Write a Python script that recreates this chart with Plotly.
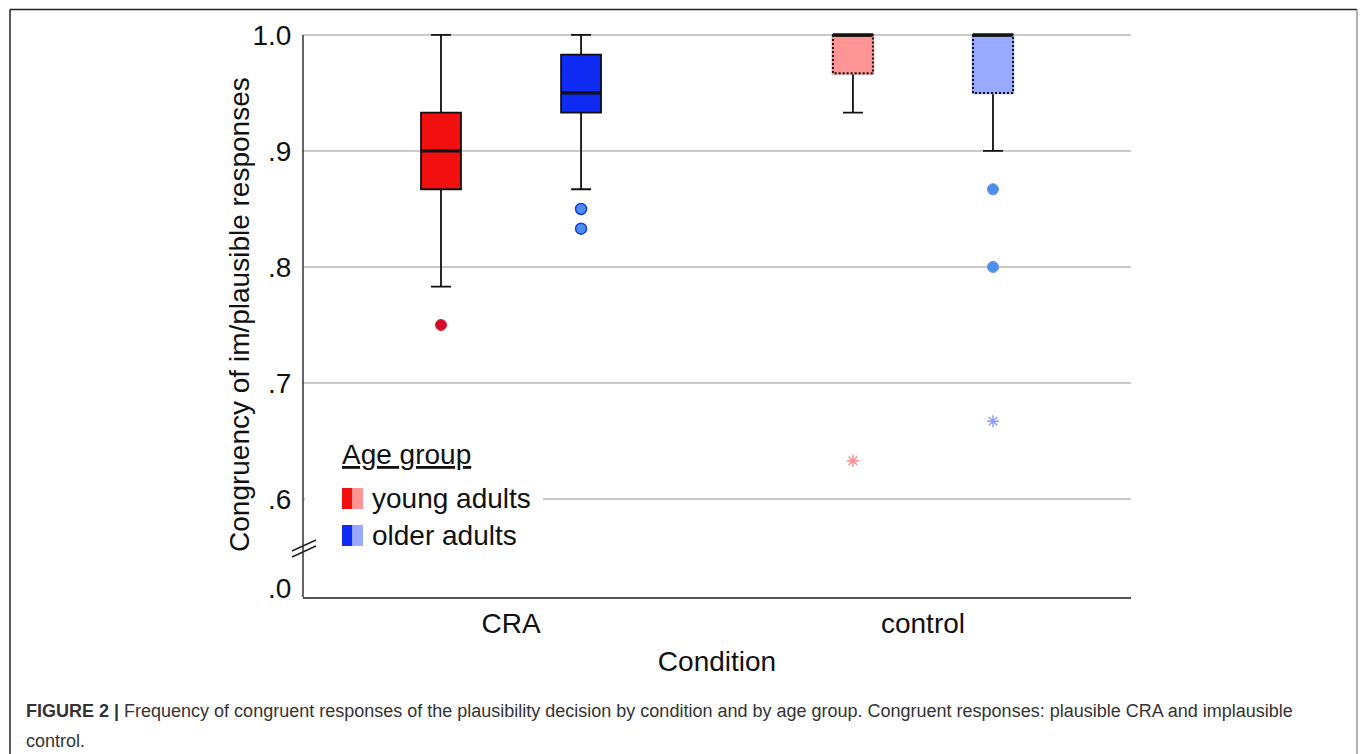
import plotly.graph_objects as go

# ---------------- data ----------------
conditions = ["CRA", "control"]
groups = ["young adults", "older adults"]

young_q1 = [0.867, 0.967]
young_med = [0.900, 1.000]
young_q3 = [0.933, 1.000]
young_lo = [0.783, 0.933]
young_hi = [1.000, 1.000]

older_q1 = [0.933, 0.950]
older_med = [0.950, 1.000]
older_q3 = [0.983, 1.000]
older_lo = [0.867, 0.900]
older_hi = [1.000, 1.000]

# outliers (circles) and extremes (stars)
young_outliers = {"CRA": [0.750], "control": []}
older_outliers = {"CRA": [0.850, 0.833], "control": [0.867, 0.800]}
young_extremes = {"CRA": [], "control": [0.633]}
older_extremes = {"CRA": [], "control": [0.667]}

y_ticks = [0.6, 0.7, 0.8, 0.9, 1.0]
y_ticktext = [".6", ".7", ".8", ".9", "1.0"]

# ---------------- style ----------------
W, H = 1360, 754
PL, PR, PB = 303, 1131, 597          # plot area pixels
PX_PER_UNIT = 1160                     # pixels per y unit
Y_TOP = 1.006
Y_BOT = 1.0 - (PB - 35) / PX_PER_UNIT
Y_ZERO_TICK = 1.0 - (588 - 35) / PX_PER_UNIT
MT = 35 - (Y_TOP - 1.0) * PX_PER_UNIT

OFFSET = 0.170
BOXW = 0.0971
FONT = "Liberation Sans, Arial, sans-serif"

fill_colors = {
    ("young adults", "CRA"): "#f20f0f",
    ("young adults", "control"): "#ff9494",
    ("older adults", "CRA"): "#0f2af2",
    ("older adults", "control"): "#99a9ff",
}


def px_x(p):
    return (p - PL) / (PR - PL)


def px_y(p):
    return (PB - p) / (PB - MT)


fig = go.Figure()

stats = {
    "young adults": (young_q1, young_med, young_q3, young_lo, young_hi, -OFFSET),
    "older adults": (older_q1, older_med, older_q3, older_lo, older_hi, OFFSET),
}

for g in groups:
    q1, med, q3, lo, hi, off = stats[g]
    for i, c in enumerate(conditions):
        xpos = i + off
        x0, x1 = xpos - BOXW / 2, xpos + BOXW / 2
        fig.add_trace(go.Box(
            x=[xpos], q1=[q1[i]], median=[med[i]], q3=[q3[i]],
            lowerfence=[lo[i]], upperfence=[hi[i]],
            width=BOXW, whiskerwidth=0.5,
            fillcolor=fill_colors[(g, c)],
            line=dict(color="#111111", width=1.8),
            boxpoints=False, showlegend=False, hoverinfo="skip",
        ))
        if c == "control":
            xs = [x0, x0, x1, x1]
            ys = [q3[i], q1[i], q1[i], q3[i]]
            fig.add_trace(go.Scatter(
                x=xs, y=ys, mode="lines",
                line=dict(color=fill_colors[(g, c)], width=2.6),
                showlegend=False, hoverinfo="skip"))
            fig.add_trace(go.Scatter(
                x=xs, y=ys, mode="lines",
                line=dict(color="#111111", width=2, dash="2px,2px"),
                showlegend=False, hoverinfo="skip"))
        # thicker median line
        fig.add_trace(go.Scatter(
            x=[x0, x1], y=[med[i], med[i]], mode="lines",
            line=dict(color="#111111", width=3.2),
            showlegend=False, hoverinfo="skip"))

# outliers
out_style = {
    ("young adults", "CRA"): dict(color="#d4082a", line=dict(color="#e0203a", width=1)),
    ("older adults", "CRA"): dict(color="#4c8ff0", line=dict(color="#1838f0", width=1.5)),
    ("older adults", "control"): dict(color="#4a90e8", line=dict(color="#6890f0", width=1)),
}
for g, outs, off in [("young adults", young_outliers, -OFFSET), ("older adults", older_outliers, OFFSET)]:
    for i, c in enumerate(conditions):
        vals = outs[c]
        if vals:
            st = out_style[(g, c)]
            fig.add_trace(go.Scatter(
                x=[i + off] * len(vals), y=vals, mode="markers",
                marker=dict(symbol="circle", size=11, **st),
                showlegend=False, hoverinfo="skip"))

star_colors = {"young adults": "#ff8e8e", "older adults": "#8e9eff"}
for g, ext, off in [("young adults", young_extremes, -OFFSET), ("older adults", older_extremes, OFFSET)]:
    for i, c in enumerate(conditions):
        vals = ext[c]
        if vals:
            fig.add_trace(go.Scatter(
                x=[i + off] * len(vals), y=vals, mode="markers",
                marker=dict(symbol="asterisk-open", size=10, color=star_colors[g],
                            line=dict(color=star_colors[g], width=1.5)),
                showlegend=False, hoverinfo="skip"))

shapes = []
# gridlines
for v in y_ticks:
    shapes.append(dict(type="line", xref="paper", yref="y", x0=0, x1=1, y0=v, y1=v,
                       line=dict(color="#b8b8b8", width=1.5), layer="below"))
# legend background
shapes.append(dict(type="rect", xref="paper", yref="paper",
                   x0=px_x(305), x1=px_x(543), y0=px_y(565), y1=px_y(430),
                   fillcolor="white", line=dict(width=0), layer="below"))
# y axis line
shapes.append(dict(type="line", xref="paper", yref="y", x0=0, x1=0, y0=Y_BOT, y1=1.0,
                   line=dict(color="#333333", width=1.5)))
# axis break marks
for dy in (0, 6):
    shapes.append(dict(type="line", xref="paper", yref="paper",
                       x0=px_x(292), y0=px_y(551 + dy), x1=px_x(316), y1=px_y(540 + dy),
                       line=dict(color="#222222", width=1.5)))
# legend swatches
sw = [("young adults", 488, 509), ("older adults", 525, 546)]
for g, t, b in sw:
    shapes.append(dict(type="rect", xref="paper", yref="paper",
                       x0=px_x(342), x1=px_x(352.5), y0=px_y(b), y1=px_y(t),
                       fillcolor=fill_colors[(g, "CRA")], line=dict(width=0)))
    shapes.append(dict(type="rect", xref="paper", yref="paper",
                       x0=px_x(352.5), x1=px_x(363), y0=px_y(b), y1=px_y(t),
                       fillcolor=fill_colors[(g, "control")], line=dict(width=0)))
# outer frame
shapes.append(dict(type="line", xref="paper", yref="paper",
                   x0=px_x(10), x1=px_x(1357), y0=px_y(9.5), y1=px_y(9.5),
                   line=dict(color="#222222", width=1.5)))
shapes.append(dict(type="line", xref="paper", yref="paper",
                   x0=px_x(10), x1=px_x(10), y0=px_y(9.5), y1=px_y(760),
                   line=dict(color="#222222", width=1.5)))
shapes.append(dict(type="line", xref="paper", yref="paper",
                   x0=px_x(1357), x1=px_x(1357), y0=px_y(9.5), y1=px_y(760),
                   line=dict(color="#999999", width=1.5)))

annotations = [
    dict(text="<u>Age group</u>", xref="paper", yref="paper", x=px_x(340), y=px_y(455),
         xanchor="left", yanchor="middle", showarrow=False,
         font=dict(family=FONT, size=28, color="#111111")),
    dict(text="Congruency of im/plausible responses", xref="paper", yref="paper",
         x=px_x(240), y=px_y(315), xanchor="center", yanchor="middle", textangle=-90,
         showarrow=False, font=dict(family=FONT, size=28, color="#111111")),
]
for g, t, b in sw:
    annotations.append(dict(text=g, xref="paper", yref="paper", x=px_x(370), y=px_y((t + b) / 2),
                            xanchor="left", yanchor="middle", showarrow=False,
                            font=dict(family=FONT, size=28, color="#111111")))
annotations.append(dict(
    text="<b>FIGURE 2 |</b> Frequency of congruent responses of the plausibility decision by condition and by age group. Congruent responses: plausible CRA and implausible",
    xref="paper", yref="paper", x=px_x(24), y=px_y(711), xanchor="left", yanchor="middle",
    showarrow=False, font=dict(family=FONT, size=18, color="#333333")))
annotations.append(dict(
    text="control.", xref="paper", yref="paper", x=px_x(24), y=px_y(741), xanchor="left",
    yanchor="middle", showarrow=False, font=dict(family=FONT, size=18, color="#333333")))

fig.update_layout(
    width=W, height=H,
    margin=dict(l=PL, r=W - PR, t=MT, b=H - PB, pad=0),
    paper_bgcolor="white", plot_bgcolor="white",
    font=dict(family=FONT, size=28, color="#111111"),
    showlegend=False,
    shapes=shapes, annotations=annotations,
    xaxis=dict(range=[-0.505, 1.505], tickvals=[0, 1], ticktext=conditions,
               showgrid=False, zeroline=False, showline=True, linecolor="#555555", linewidth=2,
               ticks="", tickfont=dict(size=28),
               title=dict(text="Condition", font=dict(size=28), standoff=14)),
    yaxis=dict(range=[Y_BOT, Y_TOP], tickvals=[Y_ZERO_TICK] + y_ticks, ticktext=[".0"] + y_ticktext,
               showgrid=False, zeroline=False, showline=False,
               ticks="outside", ticklen=5, tickcolor="rgba(0,0,0,0)",
               tickfont=dict(size=28)),
)

fig.write_html("out.html")
